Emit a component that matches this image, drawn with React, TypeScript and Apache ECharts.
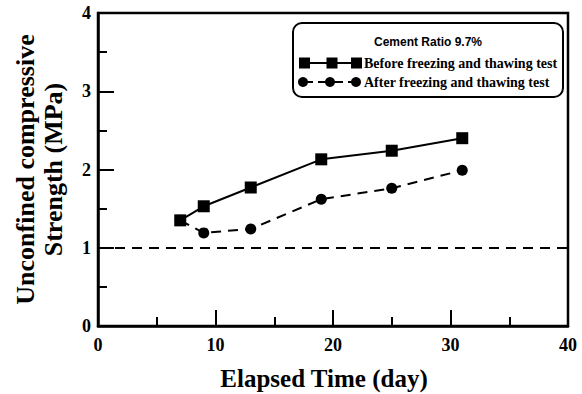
import React, { useEffect, useRef } from "react";
import * as echarts from "echarts";

const days = [7, 9, 13, 19, 25, 31];
const beforeValues = [1.35, 1.53, 1.77, 2.13, 2.24, 2.40];
const afterValues = [1.35, 1.19, 1.24, 1.62, 1.76, 1.99];
const referenceStrength = 1;
const legendTitle = "Cement Ratio 9.7%";
const beforeName = "Before freezing and thawing test";
const afterName = "After freezing and thawing test";

const serif = "'Liberation Serif', 'Times New Roman', serif";
const sans = "'Liberation Sans', Arial, sans-serif";

export default function App() {
  const ref = useRef<HTMLDivElement>(null);
  useEffect(() => {
    if (!ref.current) return;
    const chart = echarts.init(ref.current, null, { renderer: "svg" });
    const pair = (vals: number[]) => days.map((d, i) => [d, vals[i]]);
    const tickLabel = { fontFamily: serif, fontWeight: "bold", fontSize: 18, color: "#000" };
    chart.setOption({
      animation: false,
      backgroundColor: "#fff",
      grid: {
        left: 98,
        right: 14,
        top: 13,
        bottom: 68,
        show: true,
        borderColor: "#000",
        borderWidth: 2.5,
        containLabel: false,
        outerBoundsMode: "none",
      },
      xAxis: {
        type: "value",
        min: 0,
        max: 40,
        interval: 10,
        name: "Elapsed Time (day)",
        nameLocation: "middle",
        nameGap: 40,
        nameTextStyle: {
          fontFamily: serif,
          fontWeight: "bold",
          fontSize: 25,
          color: "#000",
          padding: [0, 18, 0, 0],
        },
        axisLine: { lineStyle: { color: "#000", width: 2.5 } },
        axisTick: { inside: true, length: 16, lineStyle: { color: "#000", width: 2 } },
        minorTick: { show: true, splitNumber: 2, length: 9, lineStyle: { color: "#000", width: 2 } },
        splitLine: { show: false },
        axisLabel: { ...tickLabel, margin: 10 },
      },
      yAxis: {
        type: "value",
        min: 0,
        max: 4,
        interval: 1,
        name: "Unconfined compressive\nStrength (MPa)",
        nameLocation: "middle",
        nameGap: 31,
        nameRotate: 90,
        nameTextStyle: {
          fontFamily: serif,
          fontWeight: "bold",
          fontSize: 26,
          lineHeight: 28,
          color: "#000",
          align: "center",
        },
        axisLine: { lineStyle: { color: "#000", width: 2.5 } },
        axisTick: { inside: true, length: 16, lineStyle: { color: "#000", width: 2 } },
        minorTick: { show: true, splitNumber: 2, length: 9, lineStyle: { color: "#000", width: 2 } },
        splitLine: { show: false },
        axisLabel: { ...tickLabel, margin: 7 },
      },
      series: [
        {
          name: beforeName,
          type: "line",
          data: pair(beforeValues),
          symbol: "rect",
          symbolSize: 12,
          itemStyle: { color: "#000" },
          lineStyle: { color: "#000", width: 2 },
          markLine: {
            silent: true,
            symbol: "none",
            label: { show: false },
            lineStyle: { color: "#000", width: 2, type: [10, 7] },
            data: [{ yAxis: referenceStrength }],
          },
          z: 3,
        },
        {
          name: afterName,
          type: "line",
          data: pair(afterValues),
          symbol: "circle",
          symbolSize: 11,
          itemStyle: { color: "#000" },
          lineStyle: { color: "#000", width: 2, type: [10, 7] },
          z: 2,
        },
      ],
      graphic: [
        {
          type: "rect",
          shape: { x: 293, y: 23, width: 270, height: 74, r: 9 },
          style: { fill: "#fff", stroke: "#000", lineWidth: 2 },
          z: 11,
        },
        {
          type: "text",
          x: 428,
          y: 42,
          style: {
            text: legendTitle,
            fontFamily: sans,
            fontWeight: "bold",
            fontSize: 12,
            fill: "#000",
            align: "center",
            verticalAlign: "middle",
          },
          z: 12,
        },
        { type: "line", shape: { x1: 305, y1: 63, x2: 356, y2: 63 }, style: { stroke: "#000", lineWidth: 2 }, z: 12 },
        { type: "rect", shape: { x: 299, y: 57.5, width: 11, height: 11 }, style: { fill: "#000" }, z: 13 },
        { type: "rect", shape: { x: 326.5, y: 57.5, width: 11, height: 11 }, style: { fill: "#000" }, z: 13 },
        { type: "rect", shape: { x: 351, y: 57.5, width: 11, height: 11 }, style: { fill: "#000" }, z: 13 },
        {
          type: "text",
          x: 364,
          y: 63,
          style: {
            text: beforeName,
            fontFamily: serif,
            fontWeight: "bold",
            fontSize: 14,
            fill: "#000",
            align: "left",
            verticalAlign: "middle",
          },
          z: 12,
        },
        { type: "line", shape: { x1: 303, y1: 82, x2: 356, y2: 82 }, style: { stroke: "#000", lineWidth: 2, lineDash: [10, 5] }, z: 12 },
        { type: "circle", shape: { cx: 303, cy: 82, r: 5 }, style: { fill: "#000" }, z: 13 },
        { type: "circle", shape: { cx: 330, cy: 82, r: 5 }, style: { fill: "#000" }, z: 13 },
        { type: "circle", shape: { cx: 356, cy: 82, r: 5 }, style: { fill: "#000" }, z: 13 },
        {
          type: "text",
          x: 364,
          y: 82,
          style: {
            text: afterName,
            fontFamily: serif,
            fontWeight: "bold",
            fontSize: 14,
            fill: "#000",
            align: "left",
            verticalAlign: "middle",
          },
          z: 12,
        },
      ],
    });
    return () => chart.dispose();
  }, []);
  return <div ref={ref} style={{ width: 582, height: 394, position: "absolute", left: 0, top: 0 }} />;
}
